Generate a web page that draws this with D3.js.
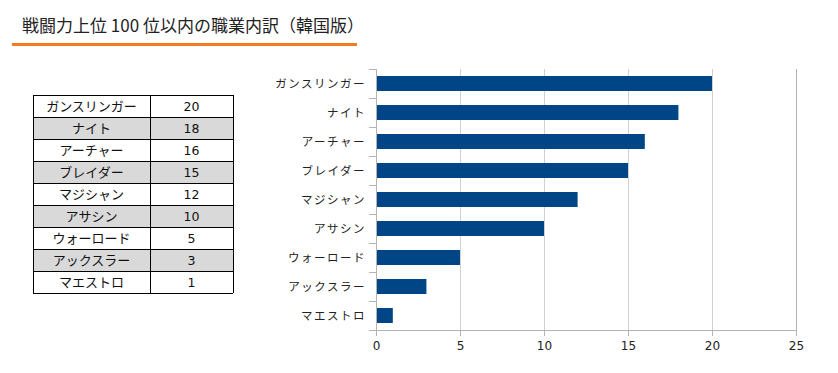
<!DOCTYPE html>
<html><head><meta charset="utf-8">
<script src="https://cdn.jsdelivr.net/npm/d3@7"></script>
<style>body{margin:0;background:#fff;} svg{display:block;}</style>
</head><body>
<svg id="c" width="838" height="373"></svg>
<script>
const title = "戦闘力上位 100 位以内の職業内訳（韓国版）";
const categories = ["ガンスリンガー","ナイト","アーチャー","ブレイダー","マジシャン","アサシン","ウォーロード","アックスラー","マエストロ"];
const values = [20,18,16,15,12,10,5,3,1];
const xTicks = [0,5,10,15,20,25];

const svg = d3.select("#c");
const font = "'Noto Sans CJK JP','Noto Sans',sans-serif";

svg.append("text").attr("x",22).attr("y",32).attr("font-family",font).attr("font-size",17).attr("fill","#222").text(title);
svg.append("rect").attr("x",12).attr("y",43).attr("width",345).attr("height",3).attr("fill","#f47b20");

// table
const tx = 33, tw1 = 117, tw2 = 83, ty = 95, rh = 22;
const tg = svg.append("g");
categories.forEach((c,i)=>{
  const y = ty + i*rh;
  tg.append("rect").attr("x",tx).attr("y",y).attr("width",tw1+tw2).attr("height",rh)
    .attr("fill", i%2===1 ? "#d9d9d9" : "#fff");
  tg.append("text").attr("x",tx+tw1/2).attr("y",y+rh/2+5).attr("text-anchor","middle")
    .attr("font-family",font).attr("font-size",13).attr("fill","#111").text(c);
  tg.append("text").attr("x",tx+tw1+tw2/2).attr("y",y+rh/2+5).attr("text-anchor","middle")
    .attr("font-family","'DejaVu Sans',sans-serif").attr("font-size",12.5).attr("fill","#111").text(values[i]);
});
for(let i=0;i<=categories.length;i++){
  tg.append("line").attr("x1",tx).attr("x2",tx+tw1+tw2).attr("y1",ty+i*rh+0.5).attr("y2",ty+i*rh+0.5).attr("stroke","#000");
}
[tx, tx+tw1, tx+tw1+tw2].forEach(x=>{
  tg.append("line").attr("x1",x+0.5).attr("x2",x+0.5).attr("y1",ty).attr("y2",ty+rh*categories.length).attr("stroke","#000");
});

// chart
const x0 = 376, x1 = 796, y0 = 69, y1 = 330;
const x = d3.scaleLinear().domain([0,25]).range([x0,x1]);
const yb = d3.scaleBand().domain(categories).range([y0,y1]);

const g = svg.append("g");
xTicks.forEach(t=>{
  if(t===0) return;
  g.append("line").attr("x1",Math.round(x(t))+0.5).attr("x2",Math.round(x(t))+0.5).attr("y1",y0).attr("y2",y1)
    .attr("stroke", t===25 ? "#b3b3b3" : "#d0d0d0");
});
g.selectAll("rect.bar").data(values).enter().append("rect").attr("class","bar")
  .attr("x",x(0)).attr("y",(d,i)=>yb(categories[i])+yb.bandwidth()/2-7.5)
  .attr("width",d=>x(d)-x(0)).attr("height",15).attr("fill","#004586");

// left axis
g.append("line").attr("x1",x0+0.5).attr("x2",x0+0.5).attr("y1",y0).attr("y2",y1).attr("stroke","#b3b3b3");
for(let i=0;i<=categories.length;i++){
  const yy = Math.round(y0 + i*yb.step())+0.5;
  g.append("line").attr("x1",x0-7).attr("x2",x0).attr("y1",yy).attr("y2",yy).attr("stroke","#b3b3b3");
}
categories.forEach(c=>{
  g.append("text").attr("x",x0-10).attr("y",yb(c)+yb.bandwidth()/2+4.5).attr("text-anchor","end")
    .attr("font-family",font).attr("font-size",11.5).attr("letter-spacing","1.5px").attr("fill","#222").text(c);
});
// bottom axis
const xa = g.append("g").attr("transform",`translate(0,${y1})`)
  .call(d3.axisBottom(x).tickValues(xTicks).tickSize(6).tickFormat(d3.format("d")));
xa.select(".domain").attr("stroke","#b3b3b3");
xa.selectAll(".tick line").attr("stroke","#b3b3b3");
xa.selectAll("text").attr("font-family","'DejaVu Sans',sans-serif").attr("font-size",12).attr("fill","#222").attr("dy","0.9em");
</script>
</body></html>
